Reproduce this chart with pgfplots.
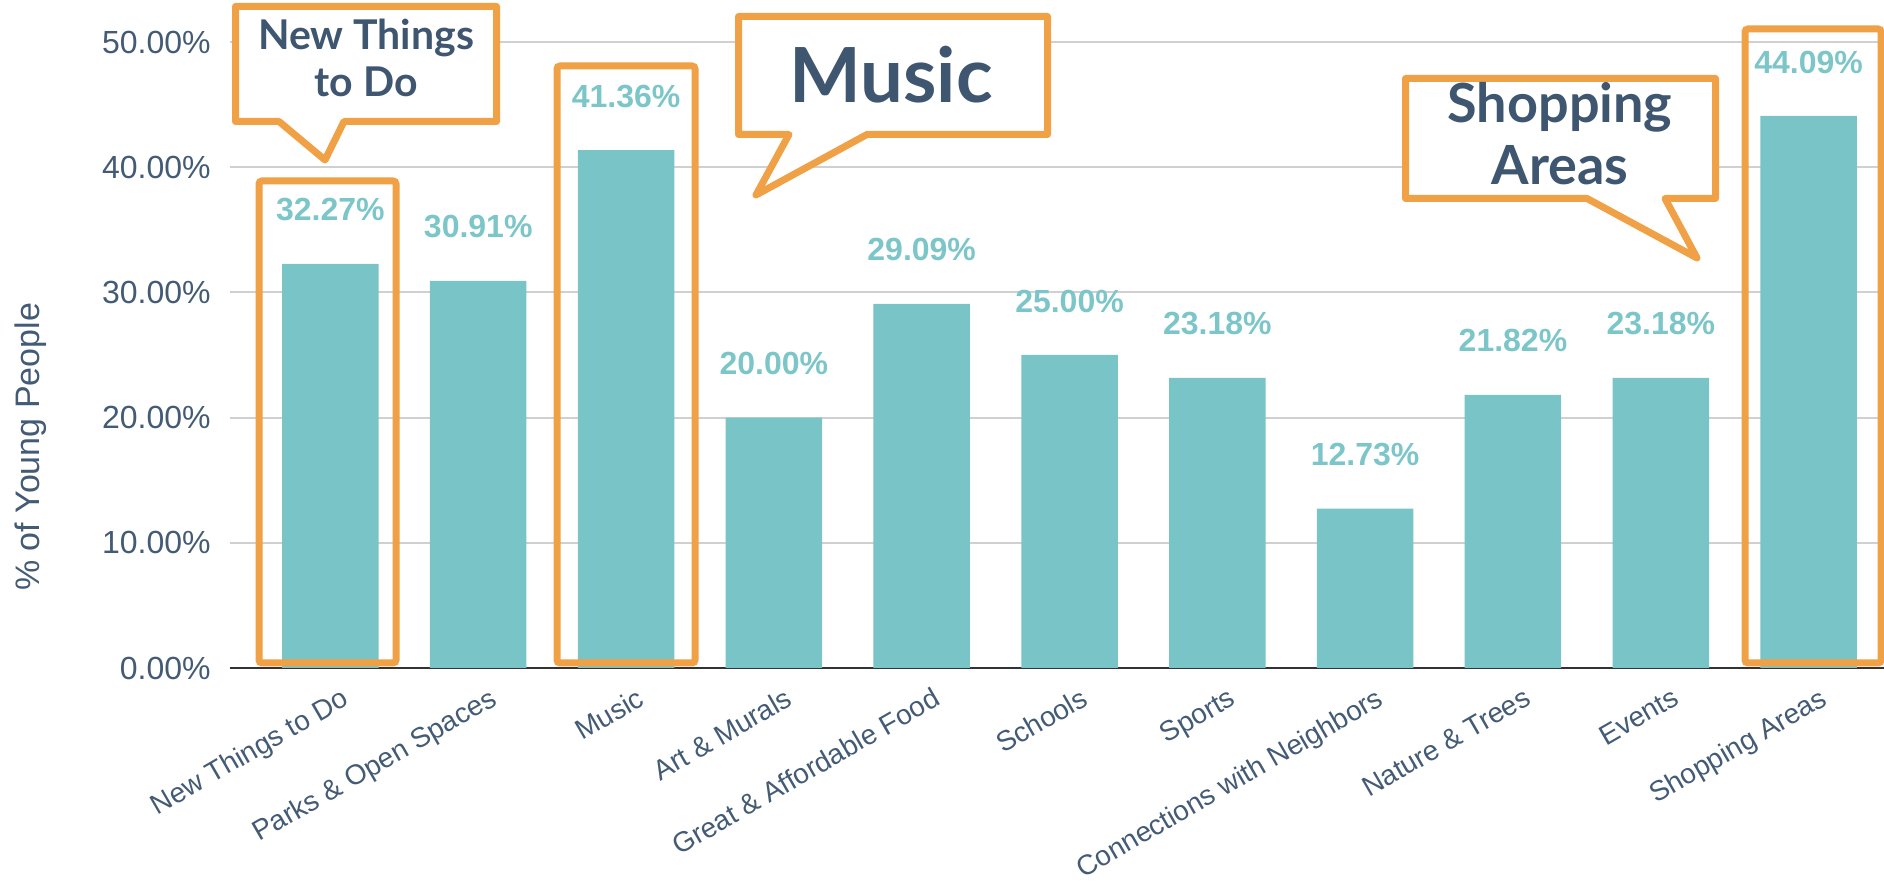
\documentclass[border=0pt]{standalone}
\usepackage{pgfplots}
\pgfplotsset{compat=1.18}
\usepackage{fontspec}
\setmainfont{Liberation Sans}
\newfontfamily\callfont{Lato}
\definecolor{barteal}{HTML}{78C4C7}
\definecolor{labteal}{HTML}{7CC6C9}
\definecolor{slate}{HTML}{435B74}
\definecolor{calltext}{HTML}{3F5670}
\definecolor{orng}{HTML}{F0A045}
\definecolor{gridgray}{HTML}{D0D0D0}
\begin{document}
\begin{tikzpicture}
\begin{axis}[
  at={(114.8pt,106.5pt)}, anchor=south west,
  scale only axis, width=827.2pt, height=313pt,
  xmin=-0.682, xmax=10.51, ymin=0, ymax=50,
  ybar, bar width=48.25pt,
  axis lines*=left,
  y axis line style={draw=none},
  x axis line style={draw=black!80, line width=1.2pt, -},
  major tick length=0pt,
  ytick={0,10,20,30,40,50},
  yticklabel={\pgfmathprintnumber[fixed,fixed zerofill,precision=2]{\tick}\%},
  yticklabel style={font=\fontsize{16}{19}\selectfont, text=slate, inner sep=0pt, xshift=-9.3pt},
  xtick={0,1,2,3,4,5,6,7,8,9,10},
  xticklabels={New Things to Do, Parks \& Open Spaces, Music, Art \& Murals, Great \& Affordable Food, Schools, Sports, Connections with Neighbors, Nature \& Trees, Events, Shopping Areas},
  xticklabel style={font=\fontsize{14}{17}\selectfont, text=slate, inner sep=0pt, xshift=5pt, yshift=-9pt, rotate=30, anchor=north east},
  ymajorgrids, grid style={gridgray, line width=1pt},
  clip=false,
  point meta=y,
  nodes near coords={\pgfmathprintnumber[fixed,fixed zerofill,precision=2]{\pgfplotspointmeta}\%},
  every node near coord/.append style={font=\fontsize{16}{19}\selectfont\bfseries, text=labteal, anchor=center, yshift=27pt},
  /pgf/number format/assume math mode=true,
]
\addplot[fill=barteal, draw=none] coordinates {
(0,32.27) (1,30.91) (2,41.36) (3,20.00) (4,29.09) (5,25.00)
(6,23.18) (7,12.73) (8,21.82) (9,23.18) (10,44.09)};
\end{axis}
\node[rotate=90, font=\fontsize{17}{20}\selectfont, text=slate, inner sep=0pt] at (15.5pt,217pt) {\% of Young People};
\begin{scope}[shift={(0pt,440.5pt)}, x=0.5pt, y=-0.5pt]
  \draw[orng, line width=3.5pt, rounded corners=1.5pt] (259,181) rectangle (396,663);
  \draw[orng, line width=3.5pt, rounded corners=1.5pt] (557,66) rectangle (695,663);
  \draw[orng, line width=3.5pt, rounded corners=1.5pt] (1745,29) rectangle (1881,663);
  % callout 1
  \draw[orng, fill=white, line width=3.5pt, line join=round] (235.5,6.5) -- (496.5,6.5) -- (496.5,121.5) -- (344,121.5) -- (325,160) -- (279,121.5) -- (235.5,121.5) -- cycle;
  \node[anchor=base, text=calltext, font=\callfont\bfseries\fontsize{20.5}{24}\selectfont, inner sep=0pt] at (366,50) {New Things};
  \node[anchor=base, text=calltext, font=\callfont\bfseries\fontsize{20.5}{24}\selectfont, inner sep=0pt] at (366,97) {to Do};
  % callout 2
  \draw[orng, fill=white, line width=3.5pt, line join=round] (738.5,16.5) -- (1047.5,16.5) -- (1047.5,134.5) -- (867,134.5) -- (756,195) -- (789,134.5) -- (738.5,134.5) -- cycle;
  \node[anchor=base, text=calltext, font=\callfont\bfseries\fontsize{38}{44}\selectfont, inner sep=0pt] at (891,103) {Music};
  % callout 3
  \draw[orng, fill=white, line width=3.5pt, line join=round] (1405.5,78.5) -- (1715.5,78.5) -- (1715.5,198.5) -- (1665,198.5) -- (1697,258) -- (1587,198.5) -- (1405.5,198.5) -- cycle;
  \node[anchor=base, text=calltext, font=\callfont\bfseries\fontsize{27}{31}\selectfont, inner sep=0pt] at (1560,123) {Shopping};
  \node[anchor=base, text=calltext, font=\callfont\bfseries\fontsize{27}{31}\selectfont, inner sep=0pt] at (1560,185) {Areas};
\end{scope}
\pgfresetboundingbox
\useasboundingbox (0,0) rectangle (942pt,440.5pt);
\end{tikzpicture}
\end{document}
